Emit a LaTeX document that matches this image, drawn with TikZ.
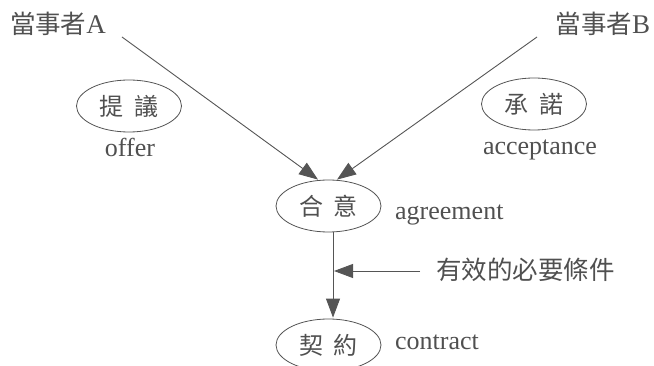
\documentclass[tikz,border=0pt]{standalone}
\usepackage{fontspec}
\setmainfont{Liberation Serif}
\newfontfamily\cjk{Noto Sans CJK TC}
\usetikzlibrary{shapes.geometric,arrows.meta,calc}
\definecolor{ink}{HTML}{505050}
\definecolor{lin}{HTML}{555555}
\tikzset{
  oval/.style={ellipse, draw=lin, line width=0.8pt, minimum width=105pt, minimum height=52pt, inner sep=0pt, text=ink, font=\cjk\fontsize{24}{24}\selectfont},
  lbl/.style={inner sep=0pt, text=ink, font=\fontsize{26}{26}\selectfont},
  party/.style={inner sep=0pt, text=ink, font=\fontsize{27}{27}\selectfont},
  arr/.style={draw=lin, line width=0.9pt, -{Triangle[length=19pt,width=14pt]}}
}
\begin{document}
\begin{tikzpicture}[x=1pt,y=1pt]
\useasboundingbox (0,0) rectangle (654,-366);
\node[party] (pa) at (58,-24) {{\cjk\fontsize{25.5}{25.5}\selectfont 當事者}A};
\node[party] (pb) at (603,-24) {{\cjk\fontsize{25.5}{25.5}\selectfont 當事者}B};
\node[oval] (offer) at (129,-106) {提\hspace{0.45em}議};
\node[lbl, anchor=base] (offert) at (130,-157) {offer};
\node[oval] (accept) at (534,-104) {承\hspace{0.45em}諾};
\node[lbl, anchor=base] (acceptt) at (540,-155) {acceptance};
\node[oval] (agree) at (328.5,-206) {合\hspace{0.45em}意};
\node[lbl, anchor=base west] (agreet) at (395,-220) {agreement};
\node[oval] (contract) at (328.5,-345) {契\hspace{0.45em}約};
\node[lbl, anchor=base west] (contractt) at (395,-349) {contract};
\node[inner sep=0pt, anchor=west, text=ink, font=\cjk\fontsize{25.5}{25.5}\selectfont] (cond) at (436,-270) {有效的必要條件};
\coordinate (sa) at (122,-37);
\coordinate (sb) at (537,-37);
\coordinate (ta) at ($(agree.north)+(-10.5,0)$);
\coordinate (tb) at ($(agree.north)+(8.5,0)$);
\coordinate (v0) at ($(agree.south)+(4.5,0)$);
\coordinate (v1) at ($(contract.north)+(4.5,1)$);
\coordinate (h0) at ($(cond.west)+(-16,-1)$);
\coordinate (h1) at (334,-271);
\draw[arr] (sa) -- (ta);
\draw[arr] (sb) -- (tb);
\draw[arr] (v0) -- (v1);
\draw[arr] (h0) -- (h1);
\end{tikzpicture}
\end{document}
